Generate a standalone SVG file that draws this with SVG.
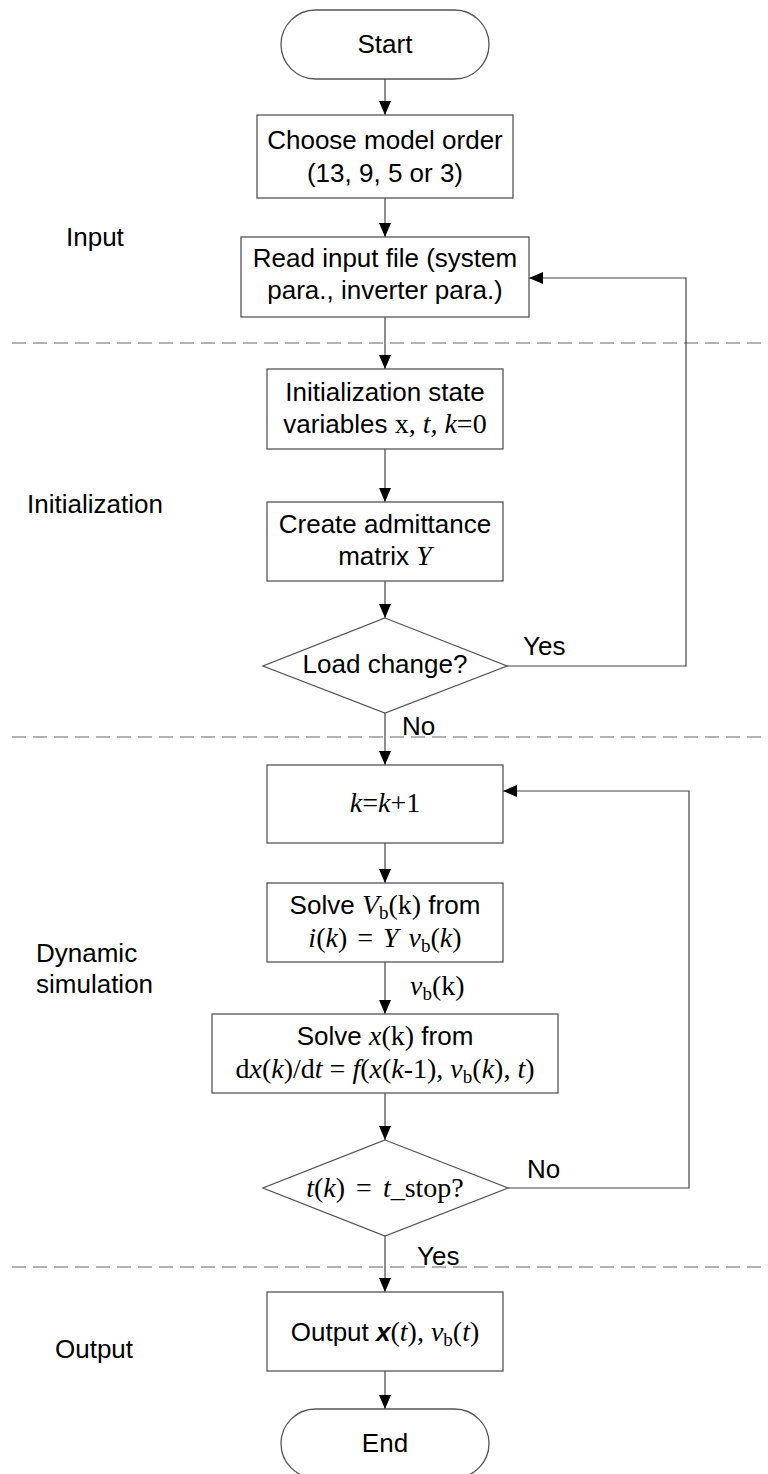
<svg xmlns="http://www.w3.org/2000/svg" width="768" height="1474" viewBox="0 0 768 1474">
<style>
.box{fill:#fff;stroke:#555;stroke-width:1.3}
.con{fill:none;stroke:#444;stroke-width:1.2}
.dash{fill:none;stroke:#999;stroke-width:1.3;stroke-dasharray:14 7}
.t{font-family:"Liberation Sans",Arial,sans-serif;font-size:26px;fill:#000}
.c{text-anchor:middle}
.m{font-family:"Liberation Serif","Times New Roman",serif;font-size:28px}
.i{font-style:italic}
.s{font-size:19px}
</style>
<defs>
<marker id="ah" markerWidth="14" markerHeight="12" refX="14" refY="6" orient="auto" markerUnits="userSpaceOnUse">
<path d="M0,0 L14,6 L0,12 Z" fill="#000"/>
</marker>
</defs>
<g id="lanes">
<line class="dash" x1="12" y1="343" x2="768" y2="343"/>
<line class="dash" x1="12" y1="737" x2="768" y2="737"/>
<line class="dash" x1="12" y1="1267" x2="768" y2="1267"/>
<text class="t" x="66" y="246">Input</text>
<text class="t" x="27" y="513">Initialization</text>
<text class="t" x="36" y="962">Dynamic</text>
<text class="t" x="36" y="993">simulation</text>
<text class="t" x="55" y="1358">Output</text>
</g>
<g id="connectors">
<line class="con" x1="385" y1="79" x2="385" y2="115" marker-end="url(#ah)"/>
<line class="con" x1="385" y1="198" x2="385" y2="237" marker-end="url(#ah)"/>
<line class="con" x1="385" y1="317" x2="385" y2="369" marker-end="url(#ah)"/>
<line class="con" x1="385" y1="449" x2="385" y2="502" marker-end="url(#ah)"/>
<line class="con" x1="385" y1="581" x2="385" y2="618" marker-end="url(#ah)"/>
<path class="con" d="M507,666 H686 V278 H529" marker-end="url(#ah)"/>
<line class="con" x1="385" y1="713" x2="385" y2="765" marker-end="url(#ah)"/>
<line class="con" x1="385" y1="843" x2="385" y2="883" marker-end="url(#ah)"/>
<line class="con" x1="385" y1="962" x2="385" y2="1014" marker-end="url(#ah)"/>
<line class="con" x1="385" y1="1093" x2="385" y2="1140" marker-end="url(#ah)"/>
<path class="con" d="M508,1188 H689 V791 H503" marker-end="url(#ah)"/>
<line class="con" x1="385" y1="1236" x2="385" y2="1292" marker-end="url(#ah)"/>
<line class="con" x1="385" y1="1371" x2="385" y2="1409" marker-end="url(#ah)"/>
<text class="t" x="523" y="655">Yes</text>
<text class="t" x="402" y="735">No</text>
<text class="t" x="527" y="1178">No</text>
<text class="t" x="417" y="1265">Yes</text>
<text class="t m" x="410" y="995"><tspan class="i">v</tspan><tspan class="s" dy="5">b</tspan><tspan dy="-5">(k)</tspan></text>
</g>
<g id="start">
<rect class="box" x="281" y="10" width="208" height="69" rx="34.5"/>
<text class="t c" x="385" y="53">Start</text>
</g>
<g id="choose">
<rect class="box" x="257" y="115" width="256" height="83"/>
<text class="t c" x="385" y="149">Choose model order</text>
<text class="t c" x="385" y="182">(13, 9, 5 or 3)</text>
</g>
<g id="read">
<rect class="box" x="241" y="237" width="288" height="80"/>
<text class="t c" x="385" y="267">Read input file (system</text>
<text class="t c" x="385" y="299">para., inverter para.)</text>
</g>
<g id="init">
<rect class="box" x="267" y="369" width="236" height="80"/>
<text class="t c" x="385" y="401">Initialization state</text>
<text class="t c" x="385" y="433">variables <tspan class="m">x,</tspan><tspan class="m i"> t,</tspan><tspan class="m i"> k</tspan><tspan class="m">=0</tspan></text>
</g>
<g id="create">
<rect class="box" x="267" y="502" width="236" height="79"/>
<text class="t c" x="385" y="533">Create admittance</text>
<text class="t c" x="385" y="565">matrix <tspan class="m i">Y</tspan></text>
</g>
<g id="loadchange">
<polygon class="box" points="385,618 507,666 385,713 263,666"/>
<text class="t c" x="385" y="673">Load change?</text>
</g>
<g id="kinc">
<rect class="box" x="267" y="765" width="236" height="78"/>
<text class="t c m" x="385" y="812"><tspan class="i">k</tspan>=<tspan class="i">k</tspan>+1</text>
</g>
<g id="solvevb">
<rect class="box" x="267" y="883" width="236" height="79"/>
<text class="t c" x="385" y="914">Solve <tspan class="m i">V</tspan><tspan class="m s" dy="5">b</tspan><tspan class="m" dy="-5">(k)</tspan> from</text>
<text class="t c m" x="385" y="947" word-spacing="3"><tspan class="i">i</tspan>(<tspan class="i">k</tspan>) = <tspan class="i">Y v</tspan><tspan class="s" dy="5">b</tspan><tspan dy="-5">(</tspan><tspan class="i">k</tspan>)</text>
</g>
<g id="solvex">
<rect class="box" x="212" y="1014" width="346" height="79"/>
<text class="t c" x="385" y="1045">Solve <tspan class="m i">x</tspan><tspan class="m">(k)</tspan> from</text>
<text class="t c m" x="385" y="1078">d<tspan class="i">x</tspan>(<tspan class="i">k</tspan>)/d<tspan class="i">t</tspan> = <tspan class="i">f</tspan>(<tspan class="i">x</tspan>(<tspan class="i">k</tspan>-1), <tspan class="i">v</tspan><tspan class="s" dy="5">b</tspan><tspan dy="-5">(</tspan><tspan class="i">k</tspan>), <tspan class="i">t</tspan>)</text>
</g>
<g id="tstop">
<polygon class="box" points="385,1140 508,1188 385,1236 263,1188"/>
<text class="t c m" x="385" y="1197" word-spacing="4"><tspan class="i">t</tspan>(<tspan class="i">k</tspan>) = <tspan class="i">t</tspan>_stop?</text>
</g>
<g id="output">
<rect class="box" x="267" y="1292" width="236" height="79"/>
<text class="t c" x="385" y="1341">Output <tspan font-weight="bold" font-style="italic">x</tspan><tspan class="m">(<tspan class="i">t</tspan>), <tspan class="i">v</tspan><tspan class="s" dy="5">b</tspan><tspan dy="-5">(</tspan><tspan class="i">t</tspan>)</tspan></text>
</g>
<g id="end">
<rect class="box" x="281" y="1409" width="208" height="69" rx="34.5"/>
<text class="t c" x="385" y="1452">End</text>
</g>
</svg>
